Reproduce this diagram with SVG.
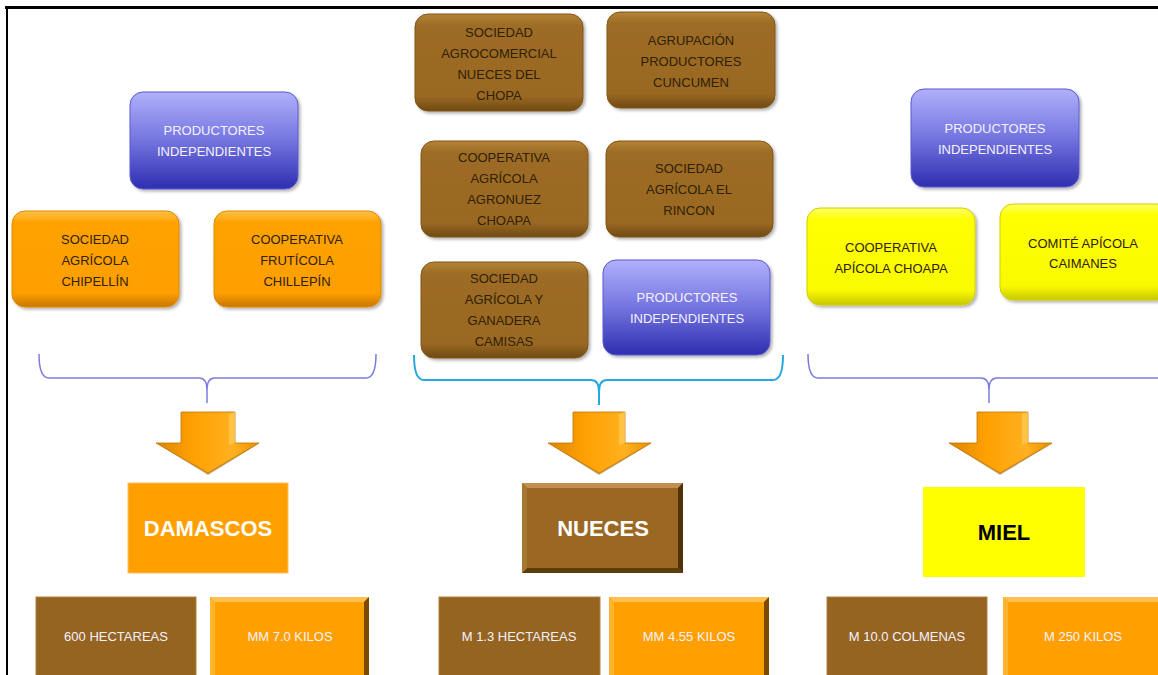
<svg xmlns="http://www.w3.org/2000/svg" width="1158" height="675" viewBox="0 0 1158 675">
<defs>
<linearGradient id="gBrown" x1="0" y1="0" x2="0" y2="1">
<stop offset="0" stop-color="#b58437"/><stop offset="0.12" stop-color="#9d6c25"/><stop offset="0.85" stop-color="#9a6823"/><stop offset="1" stop-color="#6f4a12"/>
</linearGradient>
<linearGradient id="gOrange" x1="0" y1="0" x2="0" y2="1">
<stop offset="0" stop-color="#ffc14a"/><stop offset="0.12" stop-color="#ffa200"/><stop offset="0.85" stop-color="#ff9f00"/><stop offset="1" stop-color="#c87800"/>
</linearGradient>
<linearGradient id="gYellow" x1="0" y1="0" x2="0" y2="1">
<stop offset="0" stop-color="#ffff66"/><stop offset="0.12" stop-color="#ffff00"/><stop offset="0.85" stop-color="#fafa00"/><stop offset="1" stop-color="#c8c800"/>
</linearGradient>
<linearGradient id="gBlue" x1="0" y1="0" x2="0" y2="1">
<stop offset="0" stop-color="#b0b0fb"/><stop offset="0.5" stop-color="#7474e0"/><stop offset="1" stop-color="#2e2eb0"/>
</linearGradient>
<linearGradient id="gArrow" x1="0" y1="0" x2="1" y2="0">
<stop offset="0" stop-color="#d98600"/><stop offset="0.35" stop-color="#ffa000"/><stop offset="0.75" stop-color="#ffb020"/><stop offset="1" stop-color="#e89000"/>
</linearGradient>
<filter id="sh" x="-10%" y="-10%" width="125%" height="130%">
<feDropShadow dx="2" dy="2" stdDeviation="1.5" flood-color="#000" flood-opacity="0.3"/>
</filter>
</defs>
<style>
.t{font-family:"Liberation Sans",Arial,sans-serif;font-size:13px;text-anchor:middle}
.dk{fill:#2e2106}
.wt{fill:#f4f1ff}
.big{font-family:"Liberation Sans",Arial,sans-serif;font-size:22px;font-weight:bold;text-anchor:middle}
.brown{fill:url(#gBrown);stroke:#80561a;stroke-width:1;filter:url(#sh)}
.orange{fill:url(#gOrange);stroke:#e08a00;stroke-width:1;filter:url(#sh)}
.yellow{fill:url(#gYellow);stroke:#d0d000;stroke-width:1;filter:url(#sh)}
.blue{fill:url(#gBlue);stroke:#5a5ad0;stroke-width:1;filter:url(#sh)}
.flatb{fill:#956421;stroke:#b08040;stroke-width:1}
.flato{fill:#ffa000}
.brace1{fill:none;stroke:#7c7ce0;stroke-width:1.5}
.brace2{fill:none;stroke:#28a8e0;stroke-width:2}
.arw{fill:url(#gArrow);stroke:#c07400;stroke-width:0.8}
.arws{fill:#9a5c00;opacity:0.55}
</style>
<rect width="1158" height="675" fill="#fff"/>
<g id="frame">
<line x1="5" y1="7.5" x2="1158" y2="7.5" stroke="#000" stroke-width="3"/>
<line x1="7" y1="6" x2="7" y2="675" stroke="#000" stroke-width="2"/>
</g>

<!-- Left column -->
<g id="prod-ind-left">
<rect class="blue" x="130" y="92" width="168" height="97" rx="13"/>
<text class="t wt" x="214" y="135">PRODUCTORES</text>
<text class="t wt" x="214" y="156">INDEPENDIENTES</text>
</g>
<g id="soc-chipellin">
<rect class="orange" x="12" y="211" width="167" height="96" rx="13"/>
<text class="t dk" x="95" y="244">SOCIEDAD</text>
<text class="t dk" x="95" y="265">AGRÍCOLA</text>
<text class="t dk" x="95" y="286">CHIPELLÍN</text>
</g>
<g id="coop-chillepin">
<rect class="orange" x="214" y="211" width="167" height="96" rx="13"/>
<text class="t dk" x="297" y="244">COOPERATIVA</text>
<text class="t dk" x="297" y="265">FRUTÍCOLA</text>
<text class="t dk" x="297" y="286">CHILLEPÍN</text>
</g>

<!-- Middle column -->
<g id="soc-agrocomercial">
<rect class="brown" x="415" y="14" width="168" height="97" rx="13"/>
<text class="t dk" x="499" y="37">SOCIEDAD</text>
<text class="t dk" x="499" y="58">AGROCOMERCIAL</text>
<text class="t dk" x="499" y="79">NUECES DEL</text>
<text class="t dk" x="499" y="100">CHOPA</text>
</g>
<g id="agrup-cuncumen">
<rect class="brown" x="607" y="12" width="168" height="96" rx="13"/>
<text class="t dk" x="691" y="45">AGRUPACIÓN</text>
<text class="t dk" x="691" y="66">PRODUCTORES</text>
<text class="t dk" x="691" y="87">CUNCUMEN</text>
</g>
<g id="coop-agronuez">
<rect class="brown" x="421" y="141" width="167" height="96" rx="13"/>
<text class="t dk" x="504" y="162">COOPERATIVA</text>
<text class="t dk" x="504" y="183">AGRÍCOLA</text>
<text class="t dk" x="504" y="204">AGRONUEZ</text>
<text class="t dk" x="504" y="225">CHOAPA</text>
</g>
<g id="soc-rincon">
<rect class="brown" x="606" y="141" width="167" height="96" rx="13"/>
<text class="t dk" x="689" y="173">SOCIEDAD</text>
<text class="t dk" x="689" y="194">AGRÍCOLA EL</text>
<text class="t dk" x="689" y="215">RINCON</text>
</g>
<g id="soc-camisas">
<rect class="brown" x="421" y="262" width="167" height="96" rx="13"/>
<text class="t dk" x="504" y="283">SOCIEDAD</text>
<text class="t dk" x="504" y="304">AGRÍCOLA Y</text>
<text class="t dk" x="504" y="325">GANADERA</text>
<text class="t dk" x="504" y="346">CAMISAS</text>
</g>
<g id="prod-ind-mid">
<rect class="blue" x="603" y="260" width="167" height="95" rx="13"/>
<text class="t wt" x="687" y="302">PRODUCTORES</text>
<text class="t wt" x="687" y="323">INDEPENDIENTES</text>
</g>

<!-- Right column -->
<g id="prod-ind-right">
<rect class="blue" x="911" y="89" width="168" height="98" rx="13"/>
<text class="t wt" x="995" y="133">PRODUCTORES</text>
<text class="t wt" x="995" y="154">INDEPENDIENTES</text>
</g>
<g id="coop-apicola">
<rect class="yellow" x="807" y="208" width="168" height="97" rx="13"/>
<text class="t dk" x="891" y="252">COOPERATIVA</text>
<text class="t dk" x="891" y="273">APÍCOLA CHOAPA</text>
</g>
<g id="comite-caimanes">
<rect class="yellow" x="1000" y="204" width="170" height="96" rx="13"/>
<text class="t dk" x="1083" y="248">COMITÉ APÍCOLA</text>
<text class="t dk" x="1083" y="268">CAIMANES</text>
</g>

<!-- Connectors -->
<g id="connectors">
<path class="brace1" d="M39,354 Q39,378 49,378 L199,378 Q207,378 207,390 L207,403 M376,354 Q376,378 366,378 L215,378 Q207,378 207,390"/>
<path class="brace2" d="M414,355 Q414,380 424,380 L591,380 Q599,380 599,392 L599,405 M783,355 Q783,380 773,380 L607,380 Q599,380 599,392"/>
<path class="brace1" d="M808,354 Q808,378 818,378 L981,378 Q989,378 989,390 L989,403 M1158,378 L997,378 Q989,378 989,390"/>

<polygon class="arws" points="156,443 208,475 260,443 208,470"/>
<polygon class="arw" points="181,412 235,412 235,443 259,443 208,473 156,443 181,443"/>
<polygon points="229,414 235,412 235,443 229,445" fill="#ffc850" opacity="0.8"/>

<polygon class="arws" points="548,443 599,475 652,443 599,470"/>
<polygon class="arw" points="573,412 625,412 625,443 651,443 599,473 548,443 573,443"/>
<polygon points="619,414 625,412 625,443 619,445" fill="#ffc850" opacity="0.8"/>

<polygon class="arws" points="949,443 1000,475 1053,443 1000,470"/>
<polygon class="arw" points="977,412 1028,412 1028,443 1052,443 1000,473 949,443 977,443"/>
<polygon points="1022,414 1028,412 1028,443 1022,445" fill="#ffc850" opacity="0.8"/>
</g>

<!-- Products -->
<g id="damascos">
<rect x="128" y="483" width="160" height="90" fill="#ffa000" stroke="#ffc060" stroke-width="1"/>
<text class="big" x="208" y="536" fill="#fff">DAMASCOS</text>
</g>
<g id="nueces">
<rect x="522" y="483" width="161" height="90" fill="#9a6823"/>
<polygon points="522,483 683,483 678,488 527,488" fill="#c09050"/>
<polygon points="683,483 683,573 678,568 678,488" fill="#4f3208"/>
<polygon points="522,573 683,573 678,568 527,568" fill="#5e3d0c"/>
<polygon points="522,483 527,488 527,568 522,573" fill="#a87832"/>
<text class="big" x="603" y="536" fill="#fff">NUECES</text>
</g>
<g id="miel">
<rect x="923" y="487" width="162" height="90" fill="#ffff00"/>
<text class="big" x="1004" y="540" fill="#000">MIEL</text>
</g>

<!-- Bottom stats -->
<g id="damascos-ha">
<rect class="flatb" x="36" y="597" width="160" height="85"/>
<text class="t wt" x="116" y="641">600 HECTAREAS</text>
</g>
<g id="damascos-kg">
<rect x="210" y="597" width="159" height="85" fill="#ffa000"/>
<polygon points="210,597 369,597 364,602 215,602" fill="#ffc050"/>
<polygon points="369,597 369,682 364,677 364,602" fill="#7a4a00"/>
<polygon points="210,597 215,602 215,677 210,682" fill="#ffb430"/>
<text class="t wt" x="290" y="641">MM 7.0 KILOS</text>
</g>
<g id="nueces-ha">
<rect class="flatb" x="439" y="597" width="161" height="85"/>
<text class="t wt" x="519" y="641">M 1.3 HECTAREAS</text>
</g>
<g id="nueces-kg">
<rect x="609" y="597" width="160" height="85" fill="#ffa000"/>
<polygon points="609,597 769,597 764,602 614,602" fill="#ffc050"/>
<polygon points="769,597 769,682 764,677 764,602" fill="#7a4a00"/>
<polygon points="609,597 614,602 614,677 609,682" fill="#ffb430"/>
<text class="t wt" x="689" y="641">MM 4.55 KILOS</text>
</g>
<g id="miel-colmenas">
<rect class="flatb" x="827" y="597" width="160" height="85"/>
<text class="t wt" x="907" y="641">M 10.0 COLMENAS</text>
</g>
<g id="miel-kg">
<rect x="1003" y="597" width="160" height="85" fill="#ffa000"/>
<polygon points="1003,597 1163,597 1158,602 1008,602" fill="#ffc050"/>
<polygon points="1003,597 1008,602 1008,677 1003,682" fill="#ffb430"/>
<text class="t wt" x="1083" y="641">M 250 KILOS</text>
</g>
</svg>
